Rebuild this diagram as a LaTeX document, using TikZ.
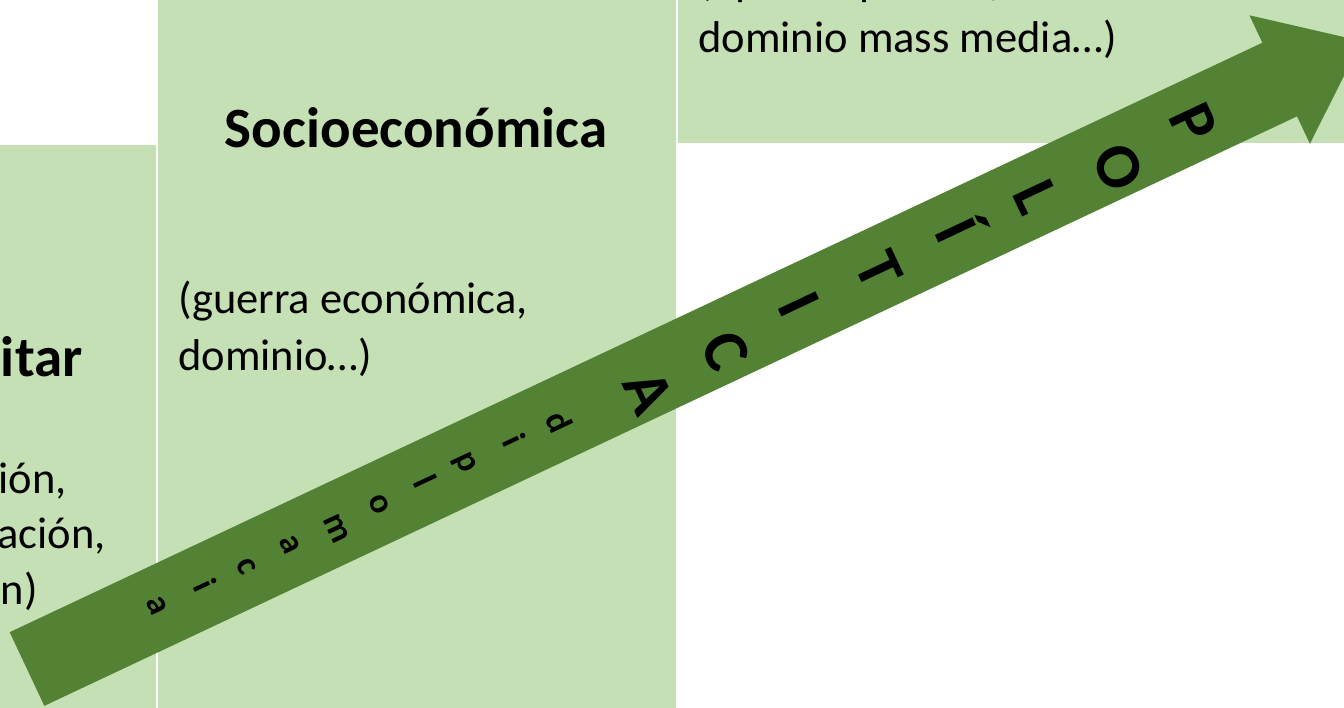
\documentclass[tikz,border=0pt]{standalone}
\usepackage{fontspec}
\setmainfont{Carlito}
\definecolor{lightgreen}{HTML}{C5E0B4}
\definecolor{darkgreen}{HTML}{548235}
\begin{document}
\begin{tikzpicture}[x=0.5pt,y=-0.5pt,
  stagebox/.style={fill=lightgreen,draw=none},
  bodytext/.style={font=\fontsize{22.25}{28.5}\selectfont, inner sep=0pt, text=black},
  titletext/.style={font=\bfseries\fontsize{28.5}{34}\selectfont, inner sep=0pt, text=black},
  bigletter/.style={font=\bfseries\fontsize{32}{38}\selectfont, inner sep=0pt, rotate=-64.8, anchor=base, text=black},
  smallletter/.style={font=\bfseries\fontsize{17.5}{21}\selectfont, inner sep=0pt, rotate=-64.8, anchor=base, text=black},
]
\useasboundingbox (0,0) rectangle (1344,707);
\clip (0,0) rectangle (1344,707);
% stage boxes
\fill[stagebox] (-10,145) rectangle (155.7,720);
\fill[stagebox] (158.3,-10) rectangle (676,720);
\fill[stagebox] (678.3,-10) rectangle (1360,142.7);
% box 1 texts (cropped at the left edge)
\node[titletext, anchor=base east] (t1) at (83,376) {itar};
\node[bodytext, anchor=base west] (b1a) at (-2,493) {ión,};
\node[bodytext, anchor=base east] (b1b) at (106,548) {ación,};
\node[bodytext, anchor=base east] (b1c) at (38,604) {n)};
% box 2 texts
\node[titletext, anchor=base] (t2) at (416,147) {Socioeconómica};
\node[bodytext, anchor=base west] (b2a) at (178,313) {(guerra económica,};
\node[bodytext, anchor=base west] (b2b) at (178,370) {dominio…)};
% box 3 texts (cropped at the top edge)
\node[bodytext, anchor=base west] (b3a) at (698,-5) {(opinión pública,};
\node[bodytext, anchor=base west] (b3b) at (698,52) {dominio mass media…)};
% arrow
\begin{scope}[shift={(27,669)}, rotate=25.2]
\fill[darkgreen] (0,-40.7) -- (1384.5,-40.7) -- (1384.5,-71) -- (1474.9,0)
  -- (1384.5,71) -- (1384.5,40.7) -- (0,40.7) -- cycle;
\node[bigletter] (pA) at (659.4,13.8) {A};
\node[bigletter] (pC) at (746.2,9.9) {C};
\node[bigletter] (pI) at (833.0,-1.2) {I};
\node[bigletter] (pT) at (919.8,1.6) {T};
\node[bigletter] (pII) at (1006.6,-1.2) {Í};
\node[bigletter] (pL) at (1093.4,3) {L};
\node[bigletter] (pO) at (1180.2,10.3) {O};
\node[bigletter] (pP) at (1267.0,2.5) {P};
\node[smallletter] (d10) at (136.3,-2) {a};
\node[smallletter] (d9) at (185.0,0.5) {i};
\node[smallletter] (d8) at (233.7,0.2) {c};
\node[smallletter] (d7) at (282.4,-0.2) {a};
\node[smallletter] (d6) at (331.1,5.3) {m};
\node[smallletter] (d5) at (379.8,1.2) {o};
\node[smallletter] (d4) at (428.5,0) {l};
\node[smallletter] (d3) at (477.2,-0.3) {p};
\node[smallletter] (d2) at (525.9,0.7) {i};
\node[smallletter] (d1) at (574.6,3.2) {d};
\end{scope}
\end{tikzpicture}
\end{document}
